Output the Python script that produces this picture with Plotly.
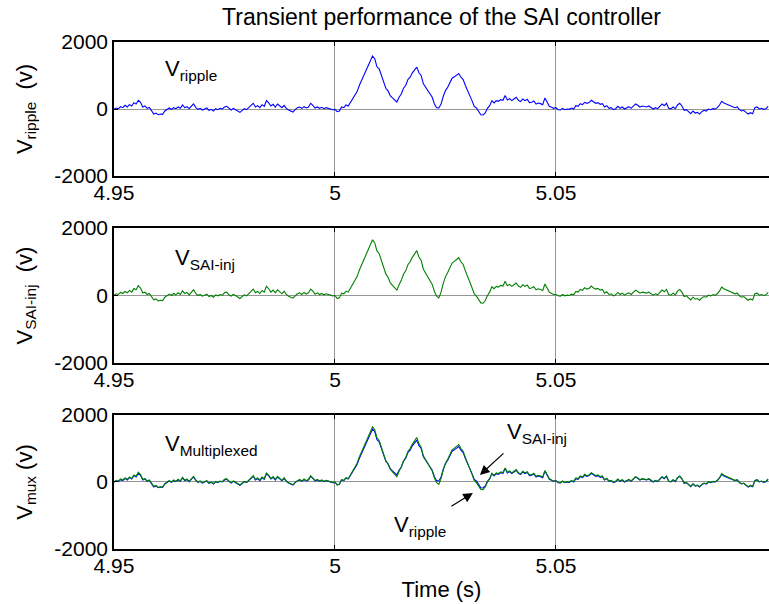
import plotly.graph_objects as go
from plotly.subplots import make_subplots

T0 = 4.95
DT = 0.0005

ripple = [
    0, 30, 10, 70, 40, 110, 60, 130, 90, 190,
    150, 260, 200, 60, 90, 20, 50, -40, -150, -120,
    -170, -150, -160, -60, -20, 30, -10, 40, 10, 60,
    20, 120, 40, 70, 10, 90, 150, 50, -10, 20,
    -30, 0, 30, -40, -10, -60, 10, -20, 20, 0,
    60, 80, 10, -30, 20, -10, -60, -100, -40, 10,
    -20, 40, 120, 170, 60, 100, 40, 130, 80, 250,
    180, 90, 140, 60, 150, 100, 40, 110, 20, -30,
    -60, -90, -20, 40, 60, 20, 70, 30, 60, 170,
    110, 30, 60, 20, 50, 10, 40, 20, 0, -20,
    -10, -80, -60, 60, 40, 120, 90, 200, 280, 400,
    520, 700, 850, 1000, 1150, 1300, 1450, 1580, 1500, 1260,
    1200, 1000, 800, 620, 540, 400, 330, 280, 210, 350,
    450, 620, 700, 880, 950, 1080, 1170, 1250, 1080, 1000,
    750, 650, 550, 450, 350, 150, 40, 30, 150, 380,
    550, 650, 800, 920, 960, 1010, 1060, 950, 880, 700,
    520, 400, 250, 80, 30, -90, -170, -180, -120, 20,
    100, 250, 180, 250, 230, 280, 260, 400, 270, 310,
    250, 300, 350, 260, 220, 300, 250, 290, 190, 200,
    240, 150, 180, 160, 130, 330, 200, 80, 50, 20,
    40, -20, -30, 20, -20, 0, -10, 30, 0, 100,
    80, 160, 130, 200, 170, 190, 260, 200, 170, 190,
    140, 160, 60, 100, 20, 40, -20, 10, 80, 20,
    60, 0, 40, 70, 20, 100, 150, 110, 60, 90,
    70, 60, 90, 30, 0, 40, 10, 80, 150, 100,
    170, 20, 0, 60, 10, 120, 170, 90, -40, -20,
    -80, -140, -60, -120, -100, -150, -80, -40, -60, 0,
    -20, 10, 0, 40, 120, 230, 180, 150, 130, 110,
    80, 40, 60, -20, -60, -40, -100, -150, -110, -140,
    40, 60, 0, 20, -10, 10, 80,
]

sai_inj = [
    0, 50, 30, 90, 60, 120, 80, 150, 100, 210,
    170, 290, 220, 80, 100, 30, 60, -30, -130, -100,
    -160, -140, -150, -50, -10, 40, 0, 60, 20, 80,
    30, 140, 60, 90, 20, 110, 170, 60, 0, 30,
    -20, 10, 40, -30, 0, -50, 20, -10, 30, 10,
    80, 100, 20, -20, 30, 0, -50, -90, -30, 20,
    -10, 60, 140, 190, 80, 120, 60, 150, 100, 270,
    200, 100, 160, 80, 170, 120, 50, 130, 30, -20,
    -50, -80, -10, 50, 80, 30, 90, 40, 80, 190,
    130, 40, 80, 30, 60, 20, 50, 30, 10, -10,
    0, -90, -70, 70, 50, 130, 100, 220, 300, 430,
    560, 750, 900, 1060, 1200, 1360, 1520, 1650, 1560, 1320,
    1240, 1030, 820, 640, 540, 380, 300, 240, 160, 320,
    450, 630, 730, 910, 1000, 1130, 1230, 1330, 1140, 1040,
    780, 660, 550, 440, 330, 120, -20, -70, 100, 360,
    560, 680, 840, 960, 1010, 1060, 1120, 1000, 920, 730,
    540, 400, 230, 50, -20, -130, -220, -230, -150, 0,
    100, 260, 200, 270, 250, 300, 280, 420, 290, 330,
    270, 320, 370, 280, 240, 320, 270, 310, 210, 220,
    260, 170, 200, 180, 150, 340, 220, 100, 60, 30,
    30, -10, -20, 30, -10, 10, 0, 40, 20, 120,
    100, 180, 150, 230, 190, 210, 280, 220, 190, 210,
    160, 180, 70, 110, 30, 50, -10, 20, 90, 30,
    70, 10, 50, 80, 30, 110, 160, 120, 70, 100,
    80, 70, 100, 40, 10, 50, 20, 90, 160, 110,
    180, 30, 10, 70, 20, 130, 180, 100, -30, -10,
    -70, -130, -50, -110, -90, -140, -70, -30, -50, 10,
    -10, 20, 10, 50, 130, 250, 200, 170, 140, 120,
    90, 50, 70, -10, -50, -30, -90, -140, -100, -130,
    50, 70, 10, 30, 0, 20, 90,
]

x_tickvals = [4.95, 5.0, 5.05]
x_ticktext = ["4.95", "5", "5.05"]
y_tickvals = [-2000, 0, 2000]
y_ticktext = ["-2000", "0", "2000"]

t_r = [T0 + DT * i for i in range(len(ripple))]
t_s = [T0 + DT * i for i in range(len(sai_inj))]

BLUE = "rgb(0,0,255)"
GREEN = "rgb(0,128,0)"
FONT = "Liberation Sans, Arial, sans-serif"

fig = make_subplots(rows=3, cols=1, shared_xaxes=False, vertical_spacing=0.1)

fig.add_trace(go.Scatter(x=t_r, y=ripple, mode="lines", line=dict(color=BLUE, width=1.1)), row=1, col=1)
fig.add_trace(go.Scatter(x=t_s, y=sai_inj, mode="lines", line=dict(color=GREEN, width=1.1)), row=2, col=1)
fig.add_trace(go.Scatter(x=t_r, y=ripple, mode="lines", line=dict(color=BLUE, width=1.1)), row=3, col=1)
fig.add_trace(go.Scatter(x=t_s, y=sai_inj, mode="lines", line=dict(color=GREEN, width=1.1)), row=3, col=1)

domains = [[0.7357, 1.0], [0.3669, 0.6331], [0.0, 0.2643]]
ytitles = ["V<sub>ripple</sub>  (v)", "V<sub>SAI-inj</sub>  (v)", "V<sub>mux</sub> (v)"]
GRID = "rgb(150,150,150)"
for i in range(3):
    xa = "xaxis" if i == 0 else f"xaxis{i+1}"
    ya = "yaxis" if i == 0 else f"yaxis{i+1}"
    fig.layout[xa].update(
        range=[4.95, 5.0982], domain=[0, 1], tickvals=x_tickvals, ticktext=x_ticktext,
        showgrid=True, gridcolor=GRID, gridwidth=1, zeroline=False,
        showline=True, linecolor="black", linewidth=1.5, mirror="ticks",
        ticks="inside", ticklen=4, tickcolor="black", ticklabelstandoff=-3,
        tickfont=dict(family=FONT, size=21, color="black"),
    )
    fig.layout[ya].update(
        range=[-2000, 2000], domain=domains[i], tickvals=y_tickvals, ticktext=y_ticktext,
        showgrid=True, gridcolor=GRID, gridwidth=1, zeroline=False,
        showline=True, linecolor="black", linewidth=1.5, mirror=False,
        ticks="inside", ticklen=4, tickcolor="black",
        tickfont=dict(family=FONT, size=21, color="black"),
        title=dict(text=ytitles[i], font=dict(family=FONT, size=22, color="black"), standoff=16),
    )

fig.layout.xaxis3.title = dict(text="Time (s)", font=dict(family=FONT, size=22, color="black"), standoff=6)

annots = [
    dict(text="V<sub>ripple</sub>", xref="x", yref="y", x=4.9611, y=1150),
    dict(text="V<sub>SAI-inj</sub>", xref="x2", yref="y2", x=4.9633, y=1080),
    dict(text="V<sub>Multiplexed</sub>", xref="x3", yref="y3", x=4.9611, y=1110),
    dict(text="V<sub>SAI-inj</sub>", xref="x3", yref="y3", x=5.0385, y=1470),
    dict(text="V<sub>ripple</sub>", xref="x3", yref="y3", x=5.0129, y=-1320),
]
for a in annots:
    fig.add_annotation(**a, showarrow=False, xanchor="left", yanchor="middle",
                       font=dict(family=FONT, size=22, color="black"))

arrows = [
    dict(x=5.0328, y=210, ax=25, ay=-23),
    dict(x=5.0312, y=-330, ax=-23, ay=14),
]
for a in arrows:
    fig.add_annotation(**a, xref="x3", yref="y3", text="", showarrow=True,
                       arrowhead=2, arrowsize=1.6, arrowwidth=1.2, arrowcolor="black")

fig.update_layout(
    width=769, height=604,
    margin=dict(l=114, r=0, t=42, b=55),
    paper_bgcolor="white", plot_bgcolor="white",
    showlegend=False,
    title=dict(text="Transient performance of the SAI controller", x=0.5, xref="paper",
               y=1 - 17 / 604, yref="container", yanchor="middle", xanchor="center",
               font=dict(family=FONT, size=23, color="black")),
)

fig.write_html("out.html")
